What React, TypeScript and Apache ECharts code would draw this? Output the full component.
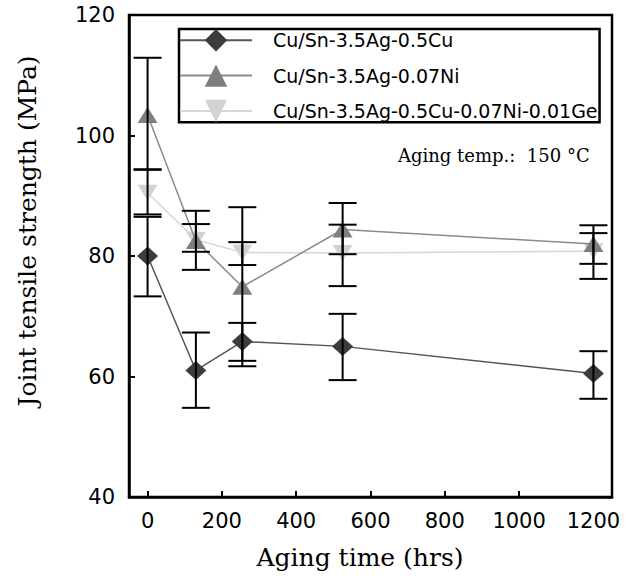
import React, { useEffect, useRef } from "react";
import * as echarts from "echarts";

const times = [0, 130, 255, 525, 1200];
const seriesNames = [
  "Cu/Sn-3.5Ag-0.5Cu",
  "Cu/Sn-3.5Ag-0.07Ni",
  "Cu/Sn-3.5Ag-0.5Cu-0.07Ni-0.01Ge",
];
const valuesA = [80, 61, 65.8, 65, 60.5];
const lowA = [73.3, 54.8, 62.6, 59.4, 56.3];
const highA = [86.5, 67.3, 68.9, 70.4, 64.2];
const valuesB = [103.4, 82.5, 74.9, 84.4, 82];
const lowB = [94.4, 77.7, 61.7, 80.3, 78.7];
const highB = [112.9, 87.5, 88.1, 88.8, 85.1];
const valuesC = [90.5, 82.7, 80.6, 80.5, 80.8];
const lowC = [86.9, 80.7, 78.5, 75, 76.2];
const highC = [94.3, 85.3, 82.3, 85.2, 83.8];
const xLabels = [0, 200, 400, 600, 800, 1000, 1200];
const xTicks = [0, 200, 400, 600, 800, 1000];

const markerColors = ["#3c3c3c", "#7f7f7f", "#d2d2d2"];
const lineColors = ["#555555", "#8a8a8a", "#d6d6d6"];

export default function App() {
  const ref = useRef<HTMLDivElement>(null);
  useEffect(() => {
    if (!ref.current) return;
    const chart = echarts.init(ref.current, null, { renderer: "svg" });
    const vals = [valuesA, valuesB, valuesC];
    const lows = [lowA, lowB, lowC];
    const highs = [highA, highB, highC];
    const symbols = ["diamond", "triangle", "triangle"];
    const sizes = [[21, 19], [20, 16], [20, 16]];
    const rotates = [0, 0, 180];

    const lineSeries = seriesNames.map((name, i) => ({
      name,
      type: "line",
      data: times.map((t, j) => [t, vals[i][j]]),
      symbol: symbols[i],
      symbolSize: sizes[i],
      symbolRotate: rotates[i],
      itemStyle: { color: markerColors[i] },
      lineStyle: { color: lineColors[i], width: 1.5 },
      z: 2 + (2 - i) * 0.1,
    }));

    const errData: number[][] = [];
    for (let i = 0; i < 3; i++) {
      for (let j = 0; j < times.length; j++) {
        errData.push([times[j], lows[i][j], highs[i][j]]);
      }
    }

    const errSeries = {
      type: "custom",
      z: 5,
      silent: true,
      data: errData,
      encode: { x: 0, y: [1, 2] },
      renderItem: (params: any, api: any) => {
        const x = api.value(0);
        const lo = api.coord([x, api.value(1)]);
        const hi = api.coord([x, api.value(2)]);
        const hw = 14;
        const style = { stroke: "#000", lineWidth: 2 };
        return {
          type: "group",
          children: [
            { type: "line", shape: { x1: lo[0], y1: lo[1], x2: hi[0], y2: hi[1] }, style },
            { type: "line", shape: { x1: lo[0] - hw, y1: lo[1], x2: lo[0] + hw, y2: lo[1] }, style },
            { type: "line", shape: { x1: hi[0] - hw, y1: hi[1], x2: hi[0] + hw, y2: hi[1] }, style },
          ],
        };
      },
    };

    chart.setOption({
      animation: false,
      backgroundColor: "#fff",
      grid: {
        left: 129,
        top: 15,
        width: 483,
        height: 482,
        show: true,
        borderColor: "#000",
        borderWidth: 2.5,
        containLabel: false,
      },
      xAxis: {
        type: "value",
        min: -50,
        max: 1250,
        axisLine: { show: true, onZero: false, lineStyle: { color: "#000", width: 2.5 } },
        axisTick: {
          show: true,
          inside: true,
          length: 6,
          lineStyle: { color: "#000", width: 2 },
          customValues: xTicks,
        },
        axisLabel: {
          customValues: xLabels,
          formatter: (v: number) => String(v),
          color: "#000",
          fontFamily: "DejaVu Sans",
          fontSize: 21,
          margin: 13,
        },
        splitLine: { show: false },
      },
      yAxis: {
        type: "value",
        min: 40,
        max: 120,
        interval: 20,
        axisLine: { show: true, onZero: false, lineStyle: { color: "#000", width: 2.5 } },
        axisTick: { show: true, inside: true, length: 6, lineStyle: { color: "#000", width: 2 } },
        axisLabel: {
          color: "#000",
          fontFamily: "DejaVu Sans",
          fontSize: 21,
          margin: 14,
        },
        splitLine: { show: false },
      },
      legend: {
        orient: "vertical",
        left: 179,
        top: 29,
        itemWidth: 72,
        itemHeight: 28,
        itemGap: 13,
        padding: [0, 2, 0, 0],
        borderColor: "#000",
        borderWidth: 2.5,
        backgroundColor: "#fff",
        selectedMode: false,
        data: seriesNames,
        formatter: (name: string) => `{t|${name}}`,
        textStyle: {
          color: "#000",
          fontFamily: "DejaVu Sans",
          fontSize: 19,
          rich: {
            t: { padding: [0, 0, 0, 16], fontFamily: "DejaVu Sans", fontSize: 19, color: "#000" },
          },
        },
      },
      graphic: [
        {
          type: "text",
          x: 27,
          y: 231,
          rotation: Math.PI / 2,
          style: {
            text: "Joint tensile strength (MPa)",
            font: "25px 'DejaVu Serif'",
            fill: "#000",
            align: "center",
            verticalAlign: "middle",
          },
        },
        {
          type: "text",
          x: 360,
          y: 557,
          style: {
            text: "Aging time (hrs)",
            font: "25px 'DejaVu Serif'",
            fill: "#000",
            align: "center",
            verticalAlign: "middle",
          },
        },
        {
          type: "text",
          x: 398,
          y: 155,
          style: {
            text: "Aging temp.:  150 °C",
            font: "18px 'DejaVu Serif'",
            fill: "#000",
            align: "left",
            verticalAlign: "middle",
          },
        },
      ],
      series: [...lineSeries, errSeries],
    });
    return () => chart.dispose();
  }, []);
  return (
    <div
      ref={ref}
      style={{ position: "absolute", left: 0, top: 0, width: 643, height: 579 }}
    />
  );
}
